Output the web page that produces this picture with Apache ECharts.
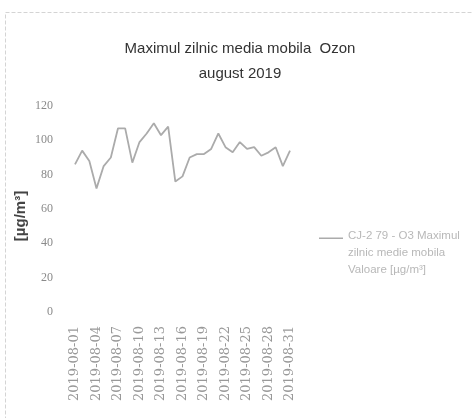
<!DOCTYPE html>
<html><head><meta charset="utf-8">
<script src="https://cdn.jsdelivr.net/npm/echarts@6/dist/echarts.min.js"></script>
<style>html,body{margin:0;padding:0;background:#fff}#c{width:473px;height:418px}</style>
</head><body><div id="c"></div>
<script>
const titleText = 'Maximul zilnic media mobila  Ozon';
const subtitleText = 'august 2019';
const yAxisName = '[µg/m³]';
const seriesName = 'CJ-2 79 - O3 Maximul\nzilnic medie mobila\nValoare [µg/m³]';
const categories = [
  '2019-08-01','2019-08-02','2019-08-03','2019-08-04','2019-08-05','2019-08-06','2019-08-07','2019-08-08',
  '2019-08-09','2019-08-10','2019-08-11','2019-08-12','2019-08-13','2019-08-14','2019-08-15','2019-08-16',
  '2019-08-17','2019-08-18','2019-08-19','2019-08-20','2019-08-21','2019-08-22','2019-08-23','2019-08-24',
  '2019-08-25','2019-08-26','2019-08-27','2019-08-28','2019-08-29','2019-08-30','2019-08-31'
];
const values = [86, 94, 88, 72, 85, 90, 107, 107, 87, 99, 104, 110, 103, 108, 76, 79, 90, 92, 92, 95, 104, 96, 93, 99, 95, 96, 91, 93, 96, 85, 94];
const yMin = 0, yMax = 120, yInterval = 20;

const chart = echarts.init(document.getElementById('c'), null, { renderer: 'canvas' });
chart.setOption({
  animation: false,
  backgroundColor: '#fff',
  graphic: [{
    type: 'rect', left: 3, top: 10, shape: { width: 480, height: 420 },
    style: { fill: 'none', stroke: '#d4d4d4', lineWidth: 1, lineDash: [4, 2] }, silent: true
  }],
  title: {
    text: titleText + '\n' + subtitleText,
    left: 235, top: 31, textAlign: 'center',
    textStyle: { fontFamily: 'Liberation Sans', fontSize: 15, fontWeight: 'normal', color: '#333', lineHeight: 25 }
  },
  legend: {
    left: 314, top: 222, orient: 'vertical',
    itemWidth: 24, itemHeight: 50, itemGap: 0,
    icon: 'path://M0,0L0.01,0L0.01,0.01Z M0,10L24,10L24,11.6L0,11.6Z M0,50L0.01,50L0.01,50.01Z',
    data: [seriesName],
    textStyle: { fontFamily: 'Liberation Sans', fontSize: 11.5, color: '#b8b8b8', lineHeight: 17 }
  },
  grid: { left: 75, top: 106, width: 215, bottom: 106, containLabel: false },
  xAxis: {
    type: 'category', data: categories, boundaryGap: false,
    axisLine: { show: false }, axisTick: { show: false },
    axisLabel: { rotate: 90, interval: 2, margin: 14, fontFamily: 'DejaVu Serif', fontSize: 13, color: '#999' }
  },
  yAxis: {
    type: 'value', min: yMin, max: yMax, interval: yInterval,
    name: yAxisName, nameLocation: 'middle', nameGap: 47, nameRotate: 90,
    nameTextStyle: { fontFamily: 'Liberation Sans', fontSize: 15, fontWeight: 'bold', color: '#444', padding: [0, 14, 0, 0] },
    axisLine: { show: false }, axisTick: { show: false }, splitLine: { show: false },
    axisLabel: { margin: 22, fontFamily: 'Liberation Serif', fontSize: 12, color: '#8a8a8a' }
  },
  series: [{
    name: seriesName, type: 'line', data: values,
    showSymbol: false, symbol: 'none',
    lineStyle: { color: '#ababab', width: 1.8 }, itemStyle: { color: '#ababab' }
  }]
});
</script></body></html>
